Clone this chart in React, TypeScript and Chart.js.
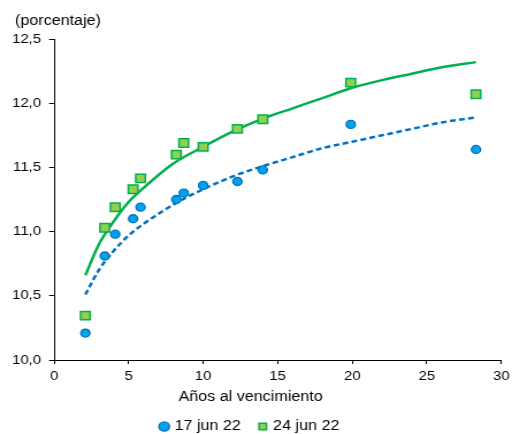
import React, { useEffect, useRef } from 'react';
import { Chart, registerables } from 'chart.js';

Chart.register(...registerables);

// ---- data ----
const maturities = [2.1, 3.4, 4.1, 5.3, 5.8, 8.2, 8.7, 10.0, 12.3, 14.0, 19.9, 28.3];
const yields17 = [10.21, 10.81, 10.98, 11.1, 11.19, 11.25, 11.3, 11.36, 11.39, 11.48, 11.835, 11.64];
const yields24 = [10.345, 11.03, 11.19, 11.33, 11.415, 11.6, 11.69, 11.66, 11.8, 11.875, 12.16, 12.07];

const curveX = [2.1, 3, 4, 5, 6, 8, 10, 12, 14, 16, 18, 20, 22, 24, 26, 28.3];
const fit17 = [10.51, 10.7, 10.85, 10.97, 11.06, 11.21, 11.33, 11.43, 11.51, 11.58, 11.65, 11.7, 11.75, 11.8, 11.85, 11.89];
const fit24 = [10.66, 10.9, 11.08, 11.23, 11.34, 11.53, 11.66, 11.78, 11.88, 11.96, 12.04, 12.12, 12.18, 12.23, 12.28, 12.32];

const seriesLabels = ['17 jun 22', '24 jun 22'];
const yTickLabels = ['10,0', '10,5', '11,0', '11,5', '12,0', '12,5'];
const xTickLabels = ['0', '5', '10', '15', '20', '25', '30'];
const unitLabel = '(porcentaje)';
const xTitle = 'Años al vencimiento';

const BLUE_FILL = '#00A3E8';
const BLUE_LINE = '#0070C0';
const GREEN_FILL = '#92D050';
const GREEN_LINE = '#00B050';

const STRETCH = 1.15;
const W = 512;
const H = 434;
const IW = Math.round(W / STRETCH);

const FONT = "'Liberation Sans', Arial, sans-serif";

export default function App() {
  const ref = useRef<HTMLCanvasElement | null>(null);

  useEffect(() => {
    const canvas = ref.current;
    if (!canvas) return;
    document.body.style.margin = '0';

    const unitPlugin = {
      id: 'unitLabel',
      afterDraw(chart: any) {
        const ctx = chart.ctx;
        ctx.save();
        ctx.font = `14px ${FONT}`;
        ctx.fillStyle = '#000';
        ctx.textAlign = 'left';
        ctx.textBaseline = 'alphabetic';
        ctx.fillText(unitLabel, 13, 25);
        ctx.restore();
      },
    };

    const chart = new Chart(canvas, {
      type: 'scatter',
      data: {
        datasets: [
          {
            label: seriesLabels[0],
            data: maturities.map((x, i) => ({ x, y: yields17[i] })),
            pointStyle: 'circle',
            pointRadius: 4,
            borderWidth: 1.3,
            backgroundColor: BLUE_FILL,
            borderColor: BLUE_LINE,
          },
          {
            label: seriesLabels[1],
            data: maturities.map((x, i) => ({ x, y: yields24[i] })),
            pointStyle: 'rect',
            pointRadius: 5.9,
            borderWidth: 1.5,
            backgroundColor: GREEN_FILL,
            borderColor: GREEN_LINE,
          },
          {
            type: 'line',
            label: 'fit17',
            data: curveX.map((x, i) => ({ x, y: fit17[i] })),
            borderColor: BLUE_LINE,
            borderWidth: 2.5,
            borderDash: [5, 3],
            pointRadius: 0,
            fill: false,
            cubicInterpolationMode: 'monotone',
          } as any,
          {
            type: 'line',
            label: 'fit24',
            data: curveX.map((x, i) => ({ x, y: fit24[i] })),
            borderColor: GREEN_LINE,
            borderWidth: 2.5,
            pointRadius: 0,
            fill: false,
            cubicInterpolationMode: 'monotone',
          } as any,
        ],
      },
      options: {
        responsive: false,
        animation: false,
        devicePixelRatio: 1,
        layout: { padding: { top: 39, left: 0, right: 9.3, bottom: -9.5 } },
        scales: {
          x: {
            type: 'linear',
            min: 0,
            max: 30,
            afterFit(scale: any) {
              scale.height = 27;
              scale.paddingRight = 0;
              scale.paddingLeft = 0;
            },
            afterBuildTicks(scale: any) {
              scale.ticks = xTickLabels.map((t) => ({ value: Number(t) }));
            },
            ticks: {
              color: '#000',
              font: { family: FONT, size: 13 },
              padding: 5,
              maxRotation: 0,
              callback: (_v: any, i: number) => xTickLabels[i],
            },
            grid: { drawOnChartArea: false, drawTicks: true, tickLength: 4, color: '#000' },
            border: { display: true, color: '#000', width: 1 },
          },
          y: {
            type: 'linear',
            min: 10,
            max: 12.5,
            afterFit(scale: any) {
              scale.width = 47;
            },
            afterBuildTicks(scale: any) {
              scale.ticks = yTickLabels.map((t) => ({ value: Number(t.replace(',', '.')) }));
            },
            ticks: {
              color: '#000',
              font: { family: FONT, size: 13 },
              padding: 7,
              callback: (_v: any, i: number) => yTickLabels[i],
            },
            grid: { drawOnChartArea: false, drawTicks: true, tickLength: 4.3, color: '#000' },
            border: { display: true, color: '#000', width: 1 },
          },
        },
        plugins: {
          tooltip: { enabled: false },
          title: { display: false },
          legend: {
            display: true,
            position: 'bottom',
            align: 'center',
            title: {
              display: true,
              text: xTitle,
              color: '#000',
              position: 'center',
              font: { family: FONT, size: 14 },
              padding: { top: 3, bottom: -4.3 },
            },
            labels: {
              usePointStyle: true,
              boxWidth: 4,
              boxHeight: 6.5,
              padding: 17,
              color: '#000',
              font: { family: FONT, size: 14 },
              filter: (item: any) => item.datasetIndex < 2,
            },
          },
        },
      } as any,
      plugins: [unitPlugin],
    });

    return () => chart.destroy();
  }, []);

  return (
    <div style={{ position: 'absolute', left: 0, top: 0, width: W, height: H, background: '#fff' }}>
      <canvas ref={ref} width={IW} height={H} style={{ width: `${W}px`, height: `${H}px`, display: 'block' }} />
    </div>
  );
}
